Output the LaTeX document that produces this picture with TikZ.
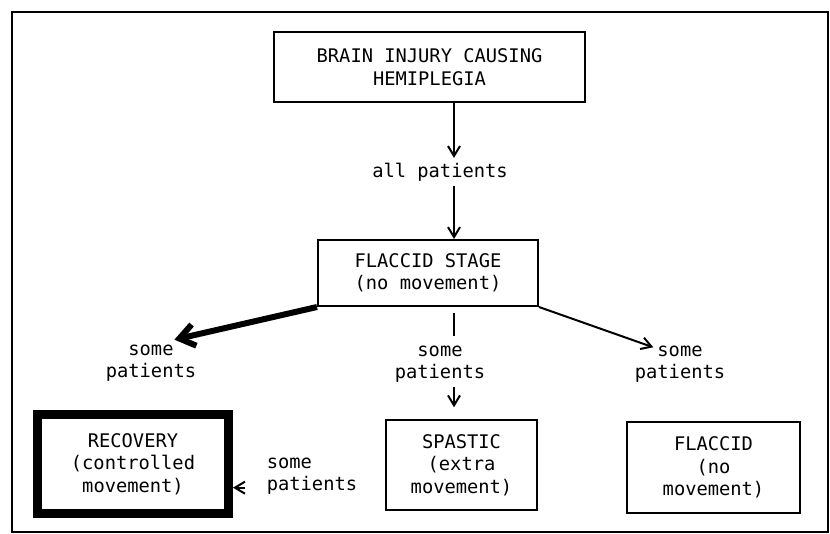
\documentclass[tikz,border=0pt]{standalone}
\usepackage{fontspec}
\newfontfamily\chartfont{DejaVu Sans Mono}
\usetikzlibrary{arrows.meta}

\begin{document}
\begin{tikzpicture}[x=0.03cm,y=-0.03cm,
  every node/.style={font=\chartfont\fontsize{16}{19.2}\selectfont},
  box/.style={draw,line width=0.06cm,inner sep=0pt,align=center},
  lbl/.style={align=center},
  >={Straight Barb[length=0.3cm,width=0.36cm]},
  line width=0.06cm]
\useasboundingbox (0,0) rectangle (830,534);
\draw (12,12) rectangle (828,532);

\draw (429.5,67) node[box,minimum width=9.33cm,minimum height=2.1cm] (brain) {BRAIN INJURY CAUSING\\HEMIPLEGIA};
\draw (440,172) node (all) {all patients};
\draw (428,273) node[box,minimum width=6.6cm,minimum height=1.98cm] (stage) {FLACCID STAGE\\(no movement)};

\draw (151,363) node[lbl] (left) {some\\patients};
\draw (440,364) node[lbl] (mid) {some\\patients};
\draw (680,364) node[lbl] (right) {some\\patients};

\draw (133,464) node[box,line width=0.27cm,minimum width=5.73cm,minimum height=2.97cm] (recovery) {RECOVERY\\(controlled\\movement)};
\draw (461.5,465) node[box,minimum width=4.53cm,minimum height=2.7cm] (spastic) {SPASTIC\\(extra\\movement)};
\draw (713.5,467.5) node[box,minimum width=5.19cm,minimum height=2.73cm] (flaccid) {FLACCID\\(no\\movement)};
\draw (312,476) node[align=left] (back) {some\\patients};

\coordinate (axis) at (454,0);
\draw[->] (brain.south -| axis) -- (all.north -| axis);
\draw[->] (all.south -| axis) -- (stage.north -| axis);
\draw[shorten <=0.18cm,shorten >=0.15cm] (stage.south -| axis) -- (mid.north -| axis);
\draw[->,shorten >=0.35cm] (mid.south -| axis) -- (spastic.north -| axis);

\draw[line width=0.18cm,-{Straight Barb[length=0.45cm,width=0.65cm]}] (stage.south west) -- ([xshift=-0.8cm]left.north east);
\draw[->] (stage.south east) -- ([xshift=0.7cm,yshift=-0.2cm]right.north west);
\draw[->,shorten <=0.5cm] ([yshift=-0.35cm]back.west) -- ([yshift=-0.35cm]back.west -| recovery.east);
\end{tikzpicture}
\end{document}
